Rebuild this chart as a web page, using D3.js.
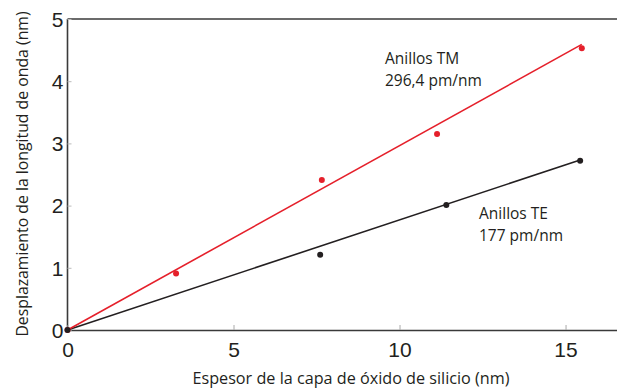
<!DOCTYPE html>
<html>
<head>
<meta charset="utf-8">
<script src="https://cdn.jsdelivr.net/npm/d3@7"></script>
<style>
  html, body { margin: 0; padding: 0; background: #fff; }
  svg { display: block; font-family: "Open Sans", "Noto Sans", sans-serif; }
</style>
</head>
<body>
<svg id="chart" width="617" height="390"></svg>
<script>
// Ring resonance shift vs. silicon oxide thickness
const tmThickness = [0, 3.27, 7.66, 11.13, 15.49];
const tmShift     = [0, 0.91, 2.41, 3.15, 4.53];
const teThickness = [0, 7.61, 11.41, 15.44];
const teShift     = [0, 1.21, 2.01, 2.72];

// fitted slopes (nm of shift per nm of oxide)
const tmSlope = 0.2964; // 296,4 pm/nm
const teSlope = 0.177;  // 177 pm/nm

const xTicks = [0, 5, 10, 15];
const yTicks = [0, 1, 2, 3, 4, 5];

const tmLabel = ["Anillos TM", "296,4 pm/nm"];
const teLabel = ["Anillos TE", "177 pm/nm"];
const xTitle = "Espesor de la capa de óxido de silicio (nm)";
const yTitle = "Desplazamiento de la longitud de onda (nm)";

const red = "#e5202b";
const dark = "#231f20";

const svg = d3.select("#chart");

const x = d3.scaleLinear().domain([0, 16.55]).range([67.5, 617]);
const y = d3.scaleLinear().domain([0, 5]).range([330, 19]);

// frame: left and top edges
const frame = svg.append("g").attr("stroke", "#3a3a3a").attr("stroke-width", 1.6);
frame.append("line").attr("x1", x(0)).attr("x2", x(0)).attr("y1", y(5)).attr("y2", y(0));
frame.append("line").attr("x1", x(0)).attr("x2", 617).attr("y1", y(5)).attr("y2", y(5));

// x axis with inward ticks
const xAxis = svg.append("g")
  .attr("transform", `translate(0,${y(0)})`)
  .call(d3.axisBottom(x).tickValues(xTicks).tickFormat(d3.format("d"))
    .tickSizeInner(-5).tickSizeOuter(0).tickPadding(12));
xAxis.select(".domain").attr("stroke", "#3a3a3a").attr("stroke-width", 1.6);
xAxis.selectAll(".tick line").attr("stroke", "#aaa");
xAxis.selectAll(".tick text")
  .attr("font-size", 21).attr("fill", dark).attr("dy", "0.71em");

// y axis with inward ticks
const yAxis = svg.append("g")
  .attr("transform", `translate(${x(0)},0)`)
  .call(d3.axisLeft(y).tickValues(yTicks).tickFormat(d3.format("d"))
    .tickSizeInner(-4).tickSizeOuter(0).tickPadding(4));
yAxis.select(".domain").remove();
yAxis.selectAll(".tick line").attr("stroke", "#bbb");
yAxis.selectAll(".tick text")
  .attr("font-size", 21).attr("fill", dark).attr("dy", "0.35em");

// fitted lines
const fit = (slope, xEnd) => [[0, 0], [xEnd, slope * xEnd]];
const line = d3.line().x(d => x(d[0])).y(d => y(d[1]));

svg.append("path")
  .attr("d", line(fit(teSlope, d3.max(teThickness))))
  .attr("fill", "none").attr("stroke", dark).attr("stroke-width", 1.6);
svg.append("path")
  .attr("d", line(fit(tmSlope, d3.max(tmThickness))))
  .attr("fill", "none").attr("stroke", red).attr("stroke-width", 1.6);

// measured points
svg.append("g").selectAll("circle")
  .data(tmThickness.map((t, i) => [t, tmShift[i]]))
  .join("circle")
  .attr("cx", d => x(d[0])).attr("cy", d => y(d[1])).attr("r", 3).attr("fill", red);
svg.append("g").selectAll("circle")
  .data(teThickness.map((t, i) => [t, teShift[i]]))
  .join("circle")
  .attr("cx", d => x(d[0])).attr("cy", d => y(d[1])).attr("r", 3).attr("fill", dark);

// series annotations
function label(lines, px, py) {
  const t = svg.append("text").attr("font-size", 15.5).attr("fill", dark);
  lines.forEach((s, i) => t.append("tspan").attr("x", px).attr("y", py + i * 22).text(s));
}
label(tmLabel, 385, 64);
label(teLabel, 479, 219);

// axis titles
svg.append("text")
  .attr("x", 351).attr("y", 384)
  .attr("text-anchor", "middle").attr("font-size", 16.2).attr("fill", dark)
  .text(xTitle);
svg.append("text")
  .attr("transform", "translate(28,174) rotate(-90)")
  .attr("text-anchor", "middle").attr("font-size", 15.8).attr("fill", dark)
  .text(yTitle);
</script>
</body>
</html>
